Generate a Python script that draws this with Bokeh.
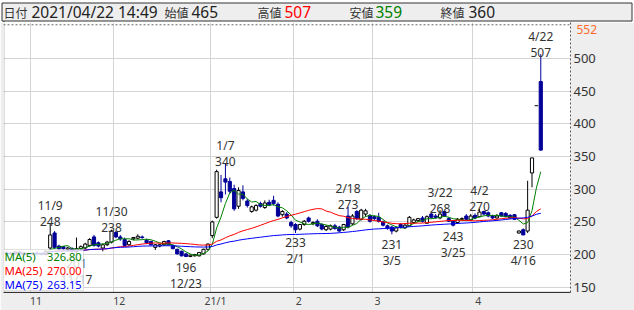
import numpy as np
import pandas as pd
from bokeh.plotting import figure
from bokeh.models import Range1d, FixedTicker, BoxAnnotation, Label, Span, ColumnDataSource, LinearAxis
from bokeh.layouts import column
from bokeh.core.properties import value
from bokeh.embed import file_html
from bokeh.resources import INLINE

# ---------------- data ----------------
dates = (["10/23", "10/26", "10/27", "10/28", "10/29", "10/30"]
         + ["11/2", "11/4", "11/5", "11/6", "11/9", "11/10", "11/11", "11/12", "11/13", "11/16", "11/17",
            "11/18", "11/19", "11/20", "11/24", "11/25", "11/26", "11/27", "11/30"]
         + ["12/1", "12/2", "12/3", "12/4", "12/7", "12/8", "12/9", "12/10", "12/11", "12/14", "12/15",
            "12/16", "12/17", "12/18", "12/21", "12/22", "12/23", "12/24", "12/25", "12/28", "12/29", "12/30"]
         + ["1/4", "1/5", "1/6", "1/7", "1/8", "1/12", "1/13", "1/14", "1/15", "1/18", "1/19", "1/20",
            "1/21", "1/22", "1/25", "1/26", "1/27", "1/28", "1/29"]
         + ["2/1", "2/2", "2/3", "2/4", "2/5", "2/8", "2/9", "2/10", "2/12", "2/15", "2/16", "2/17",
            "2/18", "2/19", "2/22", "2/24", "2/25", "2/26"]
         + ["3/1", "3/2", "3/3", "3/4", "3/5", "3/8", "3/9", "3/10", "3/11", "3/12", "3/15", "3/16",
            "3/17", "3/18", "3/19", "3/22", "3/23", "3/24", "3/25", "3/26", "3/29", "3/30", "3/31"]
         + ["4/1", "4/2", "4/5", "4/6", "4/7", "4/8", "4/9", "4/12", "4/13", "4/14", "4/15", "4/16",
            "4/19", "4/20", "4/21", "4/22"])

opens = ([203, 202, 201, 204, 202, 200]
         + [201, 202, 201, 200, 210, 233, 213, 212, 208, 209, 205, 209, 210, 214, 227, 218, 210, 215, 219]
         + [234, 227, 223, 215, 224, 225, 227, 222, 220, 211, 213, 215, 221, 214, 208, 205, 201, 197, 198, 198, 201, 208]
         + [229, 257, 296, 316, 312, 301, 274, 296, 282, 266, 268, 278, 272, 280, 283, 277, 261, 262, 249]
         + [246, 239, 246, 256, 247, 251, 246, 238, 239, 244, 242, 238, 259, 247, 266, 254, 262, 260]
         + [258, 257, 250, 244, 242, 236, 246, 241, 244, 249, 252, 256, 248, 262, 259, 256, 266, 255, 251, 249, 254, 259, 253]
         + [260, 258, 266, 264, 259, 256, 264, 263, 260, 261, 233, 238, 236, 325, 428, 465])

highs = ([205, 204, 205, 206, 204, 203]
         + [204, 205, 203, 206, 248, 236, 215, 213, 212, 211, 226, 214, 218, 225, 230, 220, 217, 221, 238]
         + [236, 230, 226, 222, 227, 231, 229, 224, 221, 216, 216, 221, 222, 215, 209, 206, 202, 200, 201, 204, 209, 217]
         + [252, 330, 322, 340, 318, 307, 303, 306, 285, 275, 277, 281, 283, 284, 290, 280, 268, 265, 252]
         + [248, 247, 253, 258, 251, 254, 248, 245, 246, 247, 244, 247, 273, 262, 268, 270, 270, 262]
         + [260, 264, 252, 246, 244, 243, 248, 247, 259, 255, 256, 259, 260, 264, 262, 268, 267, 257, 252, 256, 257, 262, 262]
         + [263, 270, 267, 266, 261, 262, 265, 265, 262, 262, 237, 240, 313, 348, 428, 507])

lows = ([200, 199, 200, 201, 199, 199]
        + [199, 200, 199, 199, 207, 209, 207, 207, 204, 203, 201, 205, 208, 212, 212, 211, 205, 213, 217]
        + [225, 221, 212, 213, 222, 223, 224, 216, 214, 207, 211, 213, 214, 208, 200, 197, 196, 196, 197, 197, 200, 206]
        + [225, 255, 280, 292, 293, 267, 270, 283, 272, 264, 266, 272, 270, 274, 275, 257, 258, 254, 241]
        + [233, 237, 244, 249, 245, 242, 237, 236, 237, 238, 234, 236, 240, 245, 253, 252, 258, 249]
        + [252, 249, 243, 238, 231, 234, 240, 239, 243, 247, 250, 249, 247, 255, 255, 254, 258, 250, 243, 247, 252, 253, 251]
        + [254, 257, 260, 257, 254, 255, 258, 257, 255, 253, 232, 230, 233, 303, 428, 359])

closes = ([202, 201, 204, 202, 200, 201]
          + [202, 201, 200, 205, 230, 211, 209, 209, 210, 205, 209, 212, 216, 223, 214, 213, 215, 219, 236]
          + [227, 224, 214, 220, 226, 228, 226, 218, 215, 215, 215, 220, 215, 209, 201, 198, 197, 199, 200, 203, 208, 216]
          + [250, 327, 287, 311, 297, 270, 298, 286, 275, 273, 275, 274, 279, 276, 278, 259, 266, 256, 244]
          + [238, 246, 251, 251, 249, 244, 239, 243, 244, 240, 236, 246, 242, 259, 255, 268, 267, 251]
          + [255, 251, 245, 240, 236, 241, 242, 245, 257, 253, 255, 251, 258, 257, 257, 262, 259, 251, 245, 254, 255, 254, 259]
          + [256, 265, 262, 259, 256, 259, 259, 258, 256, 254, 236, 230, 268, 348, 428, 360])

n_pre = 6                       # sessions shown before 11/2
month_first = ["11/2", "12/1", "1/4", "2/1", "3/1", "4/1"]
month_labels = ["11", "12", "21/1", "2", "3", "4"]
hi_label_dates = ["11/9", "11/30", "1/7", "2/18", "3/22", "4/2", "4/22"]
lo_label_dates = ["11/17", "12/23", "2/1", "3/5", "3/25", "4/16"]
y_ticks = [150, 200, 250, 300, 350, 400, 450, 500]
range_top = 552
ma_windows = [5, 25, 75]
ma_colors = ["#008000", "#ff0000", "#0000ff"]
header_time = "2021/04/22 14:49"

assert len(dates) == len(opens) == len(highs) == len(lows) == len(closes)

# ---------------- derived ----------------
xs = np.arange(len(dates)) - n_pre
o = np.array(opens, float); h = np.array(highs, float)
l = np.array(lows, float); c = np.array(closes, float)
pos = {d: i for d, i in zip(dates, xs)}
cs = pd.Series(c)
mas = [cs.rolling(w, min_periods=1).mean().to_numpy() for w in ma_windows]

NAVY = "#000099"
JP = "Noto Sans CJK JP"
LAT = "Noto Sans"
PANEL = "#eeeeee"


def no_align(fig):
    try:
        fig.frame_align = False
    except Exception:
        pass


# ---------------- header strip ----------------
HDR_H = 22
hdr = figure(width=634, height=HDR_H, x_range=Range1d(0, 634), y_range=Range1d(HDR_H, 0),
             output_backend="svg", toolbar_location=None, min_border=0,
             outline_line_color=None, background_fill_color="white", border_fill_color="white")
hdr.axis.visible = False
hdr.grid.visible = False
no_align(hdr)
hdr.quad(left=[570], right=[634], top=[20.5], bottom=[HDR_H], fill_color=PANEL, line_color=None)
hdr.quad(left=[1.5], right=[631.5], top=[2.5], bottom=[20.5], fill_color=PANEL, line_color="#333333")
hdr.segment(x0=[3.5], y0=[20.5], x1=[3.5], y1=[HDR_H], line_color="#333333", line_width=1)

small = [("日付", 3), ("始値", 164), ("高値", 257), ("安値", 349), ("終値", 440)]
hdr.text(x=[s[1] for s in small], y=[11.5] * len(small), text=[s[0] for s in small],
         text_font=value(JP), text_font_size="12px", text_baseline="middle", text_color="#333333")
big = [(header_time, 31, "#222222"), (f"{opens[-1]}", 191, "#222222"), (f"{highs[-1]}", 284, "#ff0000"),
       (f"{lows[-1]}", 375, "#008000"), (f"{closes[-1]}", 468, "#222222")]
for t, xx, col in big:
    hdr.text(x=[xx], y=[11.5], text=[t], text_font=value(LAT), text_font_size="15.5px",
             text_baseline="middle", text_color=col)

# ---------------- main chart ----------------
step = 4.38
x0 = -(30 + 0.5 * step - 3) / step
x1 = x0 + 567 / step
scale = 0.6575                      # px per yen
y_top = 500 + (58.5 - HDR_H) / scale
y_bot = 500 - (294 - 58.5) / scale
p = figure(width=634, height=310 - HDR_H, x_range=Range1d(x0, x1), y_range=Range1d(y_bot, y_top),
           output_backend="svg", toolbar_location=None, y_axis_location="right",
           min_border_left=3, min_border_right=64, min_border_top=0, min_border_bottom=16,
           background_fill_color="white", border_fill_color=PANEL, outline_line_color=None)
no_align(p)

p.xgrid.ticker = FixedTicker(ticks=[pos[d] - 0.5 for d in month_first])
p.ygrid.ticker = FixedTicker(ticks=y_ticks)
p.grid.grid_line_color = "#d4d4d4"

ya = p.yaxis[0]
ya.ticker = FixedTicker(ticks=y_ticks)
ya.major_label_text_font = LAT
ya.major_label_text_font_size = "13px"
ya.major_label_text_color = "#333333"
ya.major_tick_line_color = None
ya.minor_tick_line_color = None
ya.major_tick_out = 0
ya.major_tick_in = 0
ya.minor_tick_out = 0
ya.axis_line_color = "#555555"
ya.axis_line_dash = "2 2"
ya.major_label_standoff = 3

# orange range-top value, drawn by a second right axis folded back onto the first
top_ax = LinearAxis(ticker=FixedTicker(ticks=[range_top]), axis_line_color=None,
                    major_tick_line_color=None, minor_tick_line_color=None,
                    major_tick_out=0, major_tick_in=0, minor_tick_out=0,
                    major_label_text_font=LAT, major_label_text_font_size="12px",
                    major_label_text_color="#ff6a2a", major_label_standoff=-22)
p.add_layout(top_ax, "right")

xa = p.xaxis[0]
mt = [pos[d] + 0.75 for d in month_first]
xa.ticker = FixedTicker(ticks=mt)
xa.major_label_overrides = {t: s for t, s in zip(mt, month_labels)}
xa.major_label_text_font = LAT
xa.major_label_text_font_size = "10.5px"
xa.major_label_text_color = "#444444"
xa.major_tick_line_color = None
xa.minor_tick_line_color = None
xa.major_tick_out = 0
xa.major_tick_in = 0
xa.minor_tick_out = 0
xa.axis_line_color = "#333333"
xa.major_label_standoff = 1

# dashed top edge of the price area at the range-top value
p.add_layout(Span(location=range_top, dimension="width", line_color="#666666", line_dash="2 2", line_width=1))

# candles
up = c > o
dn = c < o
fl = c == o
su = ColumnDataSource(dict(x=xs[up], h=h[up], l=l[up], top=c[up], bot=o[up]))
sd = ColumnDataSource(dict(x=xs[dn], h=h[dn], l=l[dn], top=o[dn], bot=c[dn]))
sf = ColumnDataSource(dict(x=xs[fl], h=h[fl], l=l[fl], y=c[fl], xa=xs[fl] - 0.4, xb=xs[fl] + 0.4))
p.segment(x0="x", y0="h", x1="x", y1="l", source=su, line_color="black", line_width=1)
p.segment(x0="x", y0="h", x1="x", y1="l", source=sd, line_color=NAVY, line_width=1)
p.segment(x0="x", y0="h", x1="x", y1="l", source=sf, line_color="black", line_width=1)
p.vbar(x="x", width=0.72, top="top", bottom="bot", source=su, fill_color="white", line_color="black", line_width=1)
p.vbar(x="x", width=0.72, top="top", bottom="bot", source=sd, fill_color=NAVY, line_color=NAVY, line_width=1)
p.segment(x0="xa", y0="y", x1="xb", y1="y", source=sf, line_color="black", line_width=1)

# moving averages
for m, col in zip(mas, ma_colors):
    p.line(xs, m, line_color=col, line_width=1)

# high / low annotations
hx = [pos[d] for d in hi_label_dates]
hy = [highs[list(dates).index(d)] for d in hi_label_dates]
p.text(x=hx, y=hy, text=[str(v) for v in hy], y_offset=-2, text_align="center", text_baseline="alphabetic",
       text_font=value(LAT), text_font_size="12px", text_color="#333333")
p.text(x=hx, y=hy, text=hi_label_dates, y_offset=-18, text_align="center", text_baseline="alphabetic",
       text_font=value(LAT), text_font_size="12px", text_color="#333333")
lx = [pos[d] for d in lo_label_dates]
ly = [lows[list(dates).index(d)] for d in lo_label_dates]
p.text(x=lx, y=ly, text=[str(v) for v in ly], y_offset=10, text_align="center", text_baseline="alphabetic",
       text_font=value(LAT), text_font_size="12px", text_color="#333333")
p.text(x=lx, y=ly, text=lo_label_dates, y_offset=26, text_align="center", text_baseline="alphabetic",
       text_font=value(LAT), text_font_size="12px", text_color="#333333")


# frame decorations (screen units relative to the plot frame: x from frame left, y up from frame bottom)
def sbox(l_, r_, t_, b_, **kw):
    # arguments given in page pixels
    return BoxAnnotation(left=l_ - 3, right=r_ - 3, top=294 - t_, bottom=294 - b_,
                         left_units="screen", right_units="screen", top_units="screen", bottom_units="screen",
                         **kw)


# left frame edge
p.add_layout(sbox(3.5, 700, 0, 293.5, fill_color=None, line_color="#333333", line_width=1))

# MA legend box
p.add_layout(sbox(3, 83, 251, 292, fill_color="white", fill_alpha=0.8, line_color="#999999", line_width=1))
for k, (w, m, col) in enumerate(zip(ma_windows, mas, ma_colors)):
    yy = 294 - (258 + 14 * k)
    p.add_layout(Label(x=1, y=yy, x_units="screen", y_units="screen", text=f"MA({w})", text_color=col,
                       text_font=LAT, text_font_size="11.5px", text_baseline="middle"))
    p.add_layout(Label(x=78, y=yy, x_units="screen", y_units="screen", text=f"{m[-1]:.2f}", text_color=col,
                       text_font=LAT, text_font_size="11px", text_baseline="middle", text_align="right"))

layout = column(hdr, p, spacing=0)
open("out.html", "w").write(file_html(layout, INLINE))
